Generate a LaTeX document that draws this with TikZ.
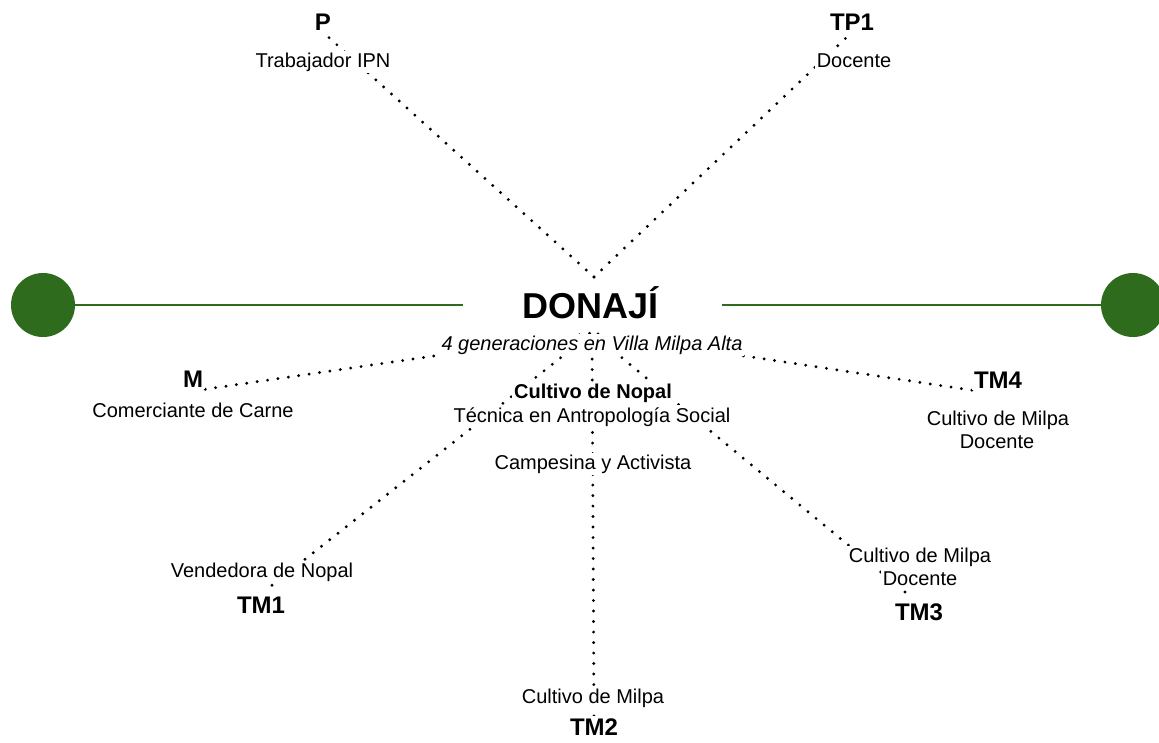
\documentclass[tikz,border=0pt]{standalone}
\usepackage{fontspec}
\setmainfont{Liberation Sans}
\usetikzlibrary{calc,backgrounds}
\definecolor{leaf}{HTML}{2F6B1C}
\begin{document}
\begin{tikzpicture}[x=1pt,y=-1pt,
  txt/.style={fill=white,inner sep=2pt,anchor=base,font=\fontsize{20}{24}\selectfont},
  txtb/.style={txt,font=\fontsize{20}{24}\bfseries\selectfont},
  txti/.style={txt,font=\fontsize{20}{24}\itshape\selectfont},
  lbl/.style={fill=white,inner sep=2pt,anchor=base,font=\fontsize{24}{28}\bfseries\selectfont},
  title/.style={fill=white,inner sep=2pt,anchor=base,font=\fontsize{36}{40}\bfseries\selectfont},
  link/.style={line width=3.2pt,line cap=round,dash pattern=on 0pt off 10.5pt,black},
  bar/.style={line width=2.8pt,leaf},
  greendot/.style={circle,fill=leaf,minimum size=64pt,inner sep=0pt}]
\useasboundingbox (0,0) rectangle (1159,742);

% top
\node[lbl] (P) at (323,30) {P};
\node[txt] (Pd) at (323,67) {Trabajador IPN};
\node[lbl] (TP1) at (852,30) {TP1};
\node[txt] (TP1d) at (854,67) {Docente};

% centre
\node[title] (D) at (591,318) {DONAJÍ};
\node[txti] (G) at (592,350) {4 generaciones en Villa Milpa Alta};
\node[txtb] (N1) at (593,398) {Cultivo de Nopal};
\node[txt] (N2) at (592,422) {Técnica en Antropología Social};
\node[txt] (N3) at (593,469) {Campesina y Activista};

% sides
\node[lbl] (M) at (193,387) {M};
\node[txt] (Md) at (193,417) {Comerciante de Carne};
\node[lbl] (TM4) at (998,388) {TM4};
\node[txt] (TM4a) at (998,425) {Cultivo de Milpa};
\node[txt] (TM4b) at (997,448) {Docente};

% bottom
\node[txt] (TM1d) at (262,577) {Vendedora de Nopal};
\node[lbl] (TM1) at (261,613) {TM1};
\node[txt] (TM3a) at (920,562) {Cultivo de Milpa};
\node[txt] (TM3b) at (920,585) {Docente};
\node[lbl] (TM3) at (919,620) {TM3};
\node[txt] (TM2d) at (593,703) {Cultivo de Milpa};
\node[lbl] (TM2) at (594,735) {TM2};

% hubs
\coordinate (hub) at (592,333);
\coordinate (crown) at (594,277);

\begin{scope}[on background layer]
\draw[link] (crown) -- (P.south);
\draw[link] (crown) -- (TP1.south);
\draw[link] (M.south east) -- (hub);
\draw[link] (TM4.south west) -- (hub);
\draw[link] ($(TM1.north)+(11,-9)$) -- (hub);
\draw[link] (TM2.north) -- (hub);
\draw[link] ($(TM3.north)+(-14,-9)$) -- (hub);
\end{scope}

% green bars
\node[greendot] (L) at (43,305) {};
\node[greendot] (R) at (1133,305) {};
\coordinate (Lend) at (463,305);
\coordinate (Rend) at (722,305);
\draw[bar] (L.east) -- (Lend);
\draw[bar] (Rend) -- (R.west);
\end{tikzpicture}
\end{document}
